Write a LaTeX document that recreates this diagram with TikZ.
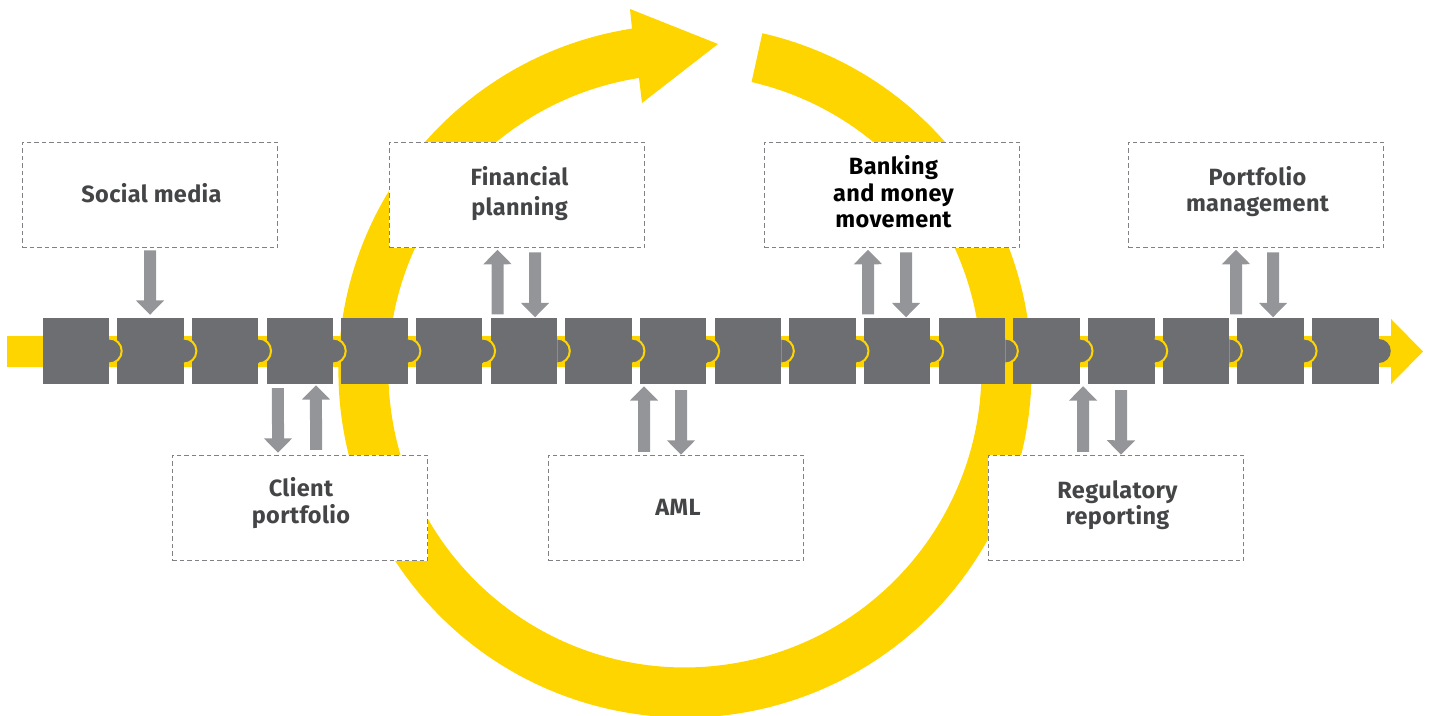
\documentclass[tikz,border=0pt]{standalone}
\usepackage{fontspec}
\setmainfont{Fira Sans}[LetterSpace=1.5]
\usetikzlibrary{arrows.meta}
\definecolor{eyyellow}{HTML}{FFD500}
\definecolor{eypiece}{HTML}{6D6E71}
\definecolor{eyarrow}{HTML}{939598}
\definecolor{eytext}{HTML}{444547}
\definecolor{eydash}{HTML}{808184}
\tikzset{
  piece/.style={fill=eypiece,draw=none,minimum width=66.5pt,minimum height=66pt,inner sep=0pt},
  dbox/.style={draw=eydash,fill=white,line width=1pt,dash pattern=on 4.5pt off 3pt,minimum width=255.5pt,minimum height=105.5pt,inner sep=0pt},
  lbl/.style={align=center,font=\fontsize{23.5}{26.5}\selectfont\bfseries,text=eytext,inner sep=0pt},
  garrow/.style={draw=eyarrow,line width=12pt,-{Triangle[width=27.5pt,length=14.5pt,fill=eyarrow]}},
}
\begin{document}
\begin{tikzpicture}[x=1pt,y=-1pt]
\useasboundingbox (0,0) rectangle (1431,715);
% ring
\fill[eyyellow] (685,371) ++(77.1:346.5pt) arc[start angle=77.1,end angle=-261.2,radius=346.5pt]
  -- (630,9) -- (718,44) -- (642,103) -- (639,78)
  arc[start angle=-261.1,end angle=77,radius=296.5pt] -- cycle;
% timeline shaft and head
\fill[eyyellow] (7,336) -- (1391,336) -- (1391,319) -- (1423,351.5) -- (1391,384) -- (1391,367) -- (7,367) -- cycle;
% boxes
\node[dbox] (social) at (150,195) {};
\node[dbox] (fin) at (517,195) {};
\node[dbox] (bank) at (892,195) {};
\node[dbox] (port) at (1256,195) {};
\node[dbox] (client) at (300,508) {};
\node[dbox] (aml) at (676,508) {};
\node[dbox] (reg) at (1116,508) {};
% labels
\node[lbl] (tsocial) at (151.5,193) {Social media};
\node[lbl,font=\fontsize{23.5}{30}\selectfont\bfseries] (tfin) at (519.5,194) {Financial\\planning};
\node[lbl,text=black] (tbank) at (893.5,192) {Banking\\and money\\movement};
\node[lbl] (tport) at (1257.5,191.5) {Portfolio\\management};
\node[lbl] (tclient) at (301,503) {Client\\portfolio};
\node[lbl] (taml) at (678,507) {AML};
\node[lbl] (treg) at (1117.5,505) {Regulatory\\reporting};
% pieces
\foreach \i in {1,...,18}
  \node[piece] (p\i) at ({75.75+74.68*(\i-1)},351) {};
% tabs
\foreach \i in {1,...,17}
  \filldraw[fill=eypiece,draw=eyyellow,line width=2pt] (p\i.east) ++(0pt,12.5pt) arc[start angle=90,end angle=-90,radius=12.5pt];
\fill[eypiece] (p18.east) ++(0pt,12pt) arc[start angle=90,end angle=-90,radius=12pt] -- cycle;
\foreach \i in {1,...,17}
  \fill[eypiece] ([yshift=11.5pt]p\i.east) rectangle ([xshift=-3pt,yshift=-11.5pt]p\i.east);
% arrows
\draw[garrow] ([yshift=-2pt]social.south) -- ([xshift=-0.4pt,yshift=3pt]p2.north);
\draw[garrow] ([xshift=-26.3pt,yshift=3.5pt]p7.north) -- ([xshift=-19.5pt,yshift=-1.5pt]fin.south);
\draw[garrow] ([xshift=18pt,yshift=-4pt]fin.south) -- ([xshift=11.2pt,yshift=0.5pt]p7.north);
\draw[garrow] ([xshift=-29.2pt,yshift=3.5pt]p12.north) -- ([xshift=-24pt,yshift=-1.5pt]bank.south);
\draw[garrow] ([xshift=14pt,yshift=-4pt]bank.south) -- ([xshift=8.8pt,yshift=0.5pt]p12.north);
\draw[garrow] ([xshift=-34.6pt,yshift=3.5pt]p17.north) -- ([xshift=-20pt,yshift=-1.5pt]port.south);
\draw[garrow] ([xshift=17pt,yshift=-4pt]port.south) -- ([xshift=2.4pt,yshift=0.5pt]p17.north);
\draw[garrow] ([xshift=-21.8pt,yshift=-4pt]p4.south) -- ([xshift=-22pt,yshift=2pt]client.north);
\draw[garrow] ([xshift=16pt,yshift=5pt]client.north) -- ([xshift=16.2pt,yshift=-1pt]p4.south);
\draw[garrow] ([xshift=-32pt,yshift=3pt]aml.north) -- ([xshift=-29.2pt,yshift=-2pt]p9.south);
\draw[garrow] ([xshift=7.8pt,yshift=-6pt]p9.south) -- ([xshift=5pt,yshift=0pt]aml.north);
\draw[garrow] ([xshift=-33pt,yshift=3pt]reg.north) -- ([xshift=-38.2pt,yshift=-2pt]p15.south);
\draw[garrow] ([xshift=-0.2pt,yshift=-6pt]p15.south) -- ([xshift=5pt,yshift=0pt]reg.north);
\end{tikzpicture}
\end{document}
